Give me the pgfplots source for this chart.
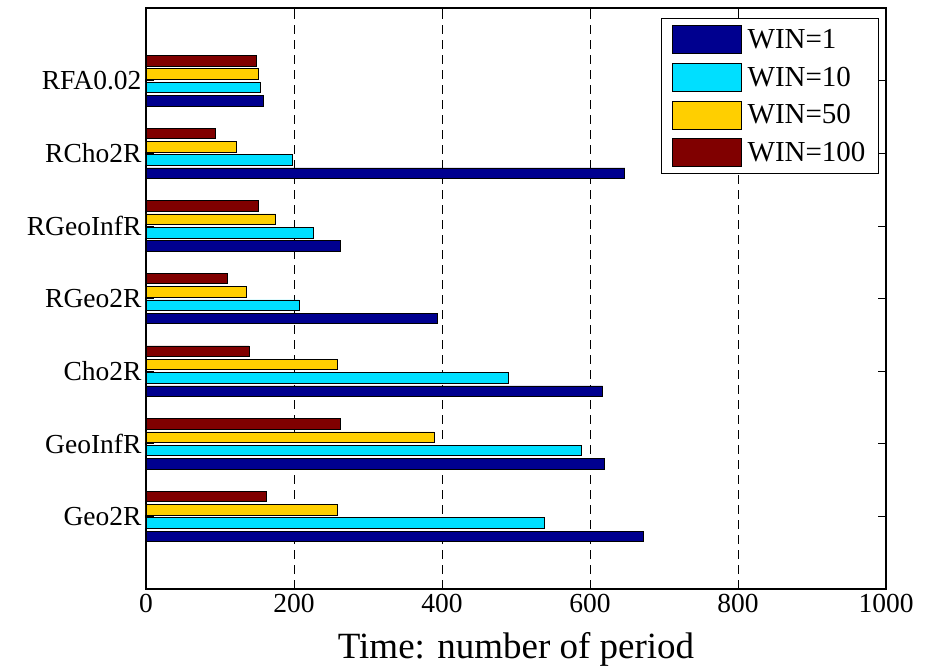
\documentclass[border=0pt]{standalone}
\usepackage{fontspec}
\setmainfont{Liberation Serif}
\usepackage{pgfplots}
\usepackage{pgfplotstable}
\pgfplotsset{compat=1.18}
\definecolor{c1}{RGB}{0,0,143}
\definecolor{c2}{RGB}{0,223,255}
\definecolor{c3}{RGB}{255,207,0}
\definecolor{c4}{RGB}{128,0,0}
\pgfplotstableread{
y w1 w10 w50 w100
1 672 538 258 162
2 619 588 389 262
3 617 489 259 139
4 394 207 135 110
5 263 226 175 152
6 647 198 122 94
7 159 154 152 149
}\data
\begin{document}
\begin{tikzpicture}
\begin{axis}[
  at={(0,0)}, anchor=south west,
  scale only axis, width=740pt, height=581pt,
  xmin=0, xmax=1000, ymin=0, ymax=8,
  xbar, bar width=0.145,
  ytick={1,...,7},
  yticklabels={Geo2R,GeoInfR,Cho2R,RGeo2R,RGeoInfR,RCho2R,RFA0.02},
  xtick={0,200,...,1000},
  tick align=inside, xtick pos=both, ytick pos=both,
  major tick length=8pt,
  tick style={black, line width=0.6pt},
  xmajorgrids,
  major grid style={black, dash pattern=on 9pt off 6pt, line width=0.6pt},
  axis line style={black, line width=1.3pt},
  /pgf/number format/assume math mode=true,
  /pgf/number format/1000 sep={},
  ticklabel style={font=\fontsize{27.5}{30}\selectfont},
  xticklabel style={yshift=-2pt},
  yticklabel style={xshift=-1pt},
  xlabel={Time: number of period},
  xlabel style={font=\fontsize{37}{40}\selectfont, yshift=-12pt},
  every axis plot post/.append style={legend image code/.code={\draw[##1, line width=0.6pt] (0pt,-14pt) rectangle (69pt,14pt);}},
  legend style={at={(0.9905,0.983)}, anchor=north east, draw=black, line width=1pt,
    font=\fontsize{29}{31}\selectfont, legend cell align=left,
    row sep=9pt, inner xsep=11pt, inner ysep=7pt,
    /tikz/every odd column/.append style={column sep=4pt}},
]
\addplot[fill=c1, draw=black, line width=0.6pt, bar shift=-0.275] table[x=w1,y=y]{\data};
\addplot[fill=c2, draw=black, line width=0.6pt, bar shift=-0.092] table[x=w10,y=y]{\data};
\addplot[fill=c3, draw=black, line width=0.6pt, bar shift=0.092] table[x=w50,y=y]{\data};
\addplot[fill=c4, draw=black, line width=0.6pt, bar shift=0.275] table[x=w100,y=y]{\data};
\legend{WIN=1,WIN=10,WIN=50,WIN=100}
\end{axis}
\path[use as bounding box] (-146pt,-82pt) rectangle (787pt,589pt);
\end{tikzpicture}
\end{document}
